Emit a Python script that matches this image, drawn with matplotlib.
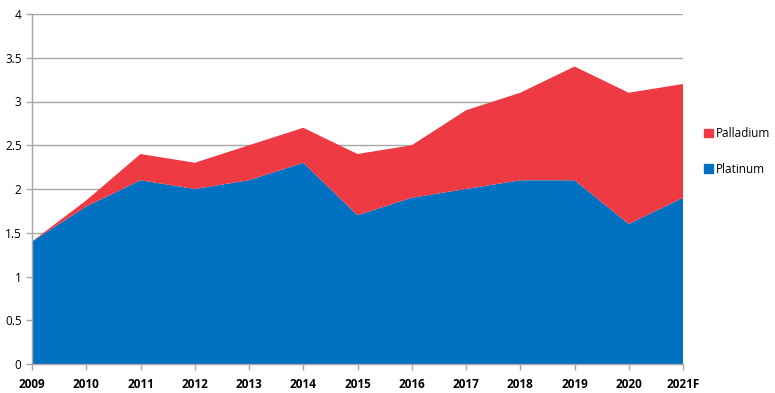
import numpy as np
import matplotlib.pyplot as plt
from matplotlib.patches import Patch

BLUE = '#0070C0'
RED = '#EE3A43'
GRID = '#A6A6A6'

years = ['2009', '2010', '2011', '2012', '2013', '2014', '2015',
         '2016', '2017', '2018', '2019', '2020', '2021F']
platinum = [1.4, 1.8, 2.1, 2.0, 2.1, 2.3, 1.7, 1.9, 2.0, 2.1, 2.1, 1.6, 1.9]
palladium = [0.0, 0.07, 0.3, 0.3, 0.4, 0.4, 0.7, 0.6, 0.9, 1.0, 1.3, 1.5, 1.3]

plt.rcParams['font.family'] = ['Open Sans', 'DejaVu Sans']

fig = plt.figure(figsize=(7.75, 3.93), dpi=100, facecolor='white')
ax = fig.add_axes([32 / 775, 29 / 393, 651 / 775, 350 / 393])

x = np.arange(len(years))
ax.stackplot(x, platinum, palladium, colors=[BLUE, RED], linewidth=0, zorder=2)

ax.set_xlim(0, len(years) - 1)
ax.set_ylim(0, 4)
ax.set_yticks(np.arange(0, 4.01, 0.5))
ax.set_yticklabels(['0', '0.5', '1', '1.5', '2', '2.5', '3', '3.5', '4'])
ax.set_xticks(x)
ax.set_xticklabels(years, fontweight='bold')

ax.yaxis.grid(True, color=GRID, linewidth=1, zorder=0)
ax.set_axisbelow(True)
for s in ['top', 'right']:
    ax.spines[s].set_visible(False)
for s in ['left', 'bottom']:
    ax.spines[s].set_color(GRID)
    ax.spines[s].set_linewidth(1)
    ax.spines[s].set_zorder(3)
ax.tick_params(axis='both', colors=GRID, length=4, width=1, labelsize=8.5,
               labelcolor='black')
ax.tick_params(axis='x', pad=6)

handles = [Patch(color=RED, label='Palladium'), Patch(color=BLUE, label='Platinum')]
fig.legend(handles=handles, loc='center left', bbox_to_anchor=(0.895, 0.615),
           frameon=False, fontsize=8.5, handlelength=0.7, handleheight=0.7,
           handletextpad=0.3, labelspacing=1.9)

fig.savefig('out.png', dpi=100)
